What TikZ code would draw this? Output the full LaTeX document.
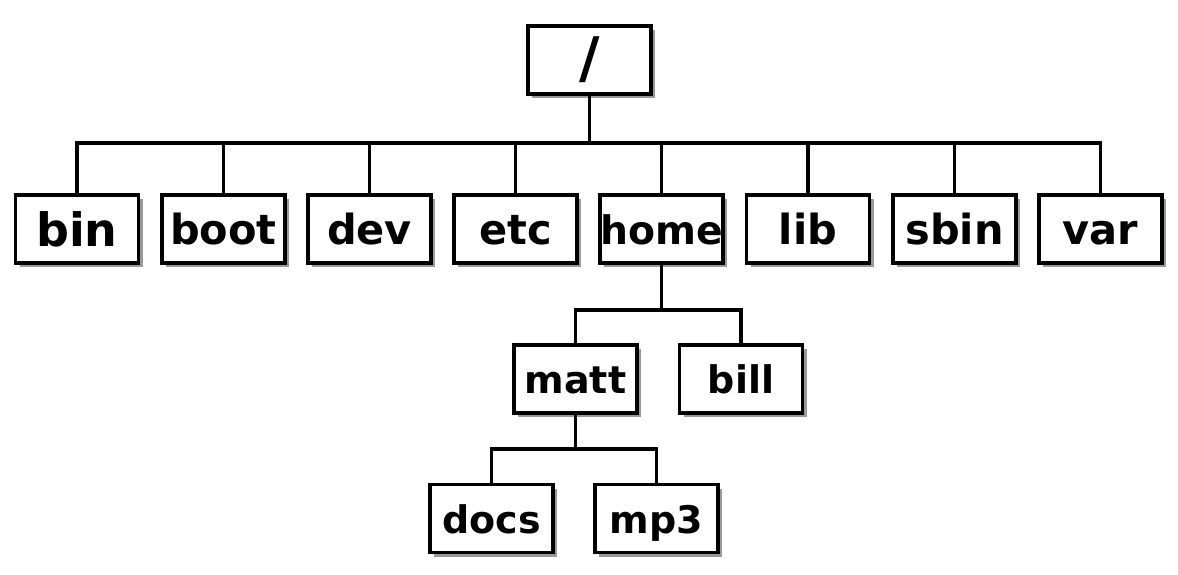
\documentclass[tikz,border=0pt]{standalone}
\usepackage{fontspec}
\setmainfont{DejaVu Sans}
\usetikzlibrary{shadows}
\begin{document}
\begin{tikzpicture}[x=1pt,y=-1pt,
  box/.style={draw=black, line width=3.5pt, fill=white, minimum width=123pt, minimum height=68pt,
    inner sep=0pt, text depth=0pt, row,
    general shadow={fill=black!40, shadow xshift=4pt, shadow yshift=-4pt}},
  row/.style={font=\bfseries\fontsize{41.5}{41.5}\selectfont, text height=31.5pt},
  big/.style={font=\bfseries\fontsize{46}{46}\selectfont, text height=35pt},
  mid/.style={font=\bfseries\fontsize{39.3}{39.3}\selectfont, text height=30pt},
  small/.style={font=\bfseries\fontsize{38}{38}\selectfont, text height=29pt},
  link/.style={line width=3.5pt, line join=miter}]
\useasboundingbox (0,0) rectangle (1178,575);

\node[box, text height=, text depth=, font=\bfseries\fontsize{56}{56}\selectfont] (root) at (589.5,60) {/};

\node[box, big] (bin) at (77,229) {bin};
\node[box] (boot) at (223.5,229) {boot};
\node[box] (dev) at (369.5,229) {dev};
\node[box] (etc) at (515.5,229) {etc};
\node[box, mid] (home) at (661.5,229) {home};
\node[box] (lib) at (808,229) {lib};
\node[box] (sbin) at (954.5,229) {sbin};
\node[box] (var) at (1100.5,229) {var};

\node[box, small] (matt) at (575.5,379) {matt};
\node[box, small] (bill) at (741,379) {bill};

\node[box, small] (docs) at (491.5,518.5) {docs};
\node[box, small] (mp3) at (656.5,518.5) {mp3};

\coordinate (b0) at (589.5,143);
\coordinate (b1) at (661.5,310);
\coordinate (b2) at (575.5,449);

\draw[link] (root.south) -- (b0);
\draw[link] (bin.north) |- (var.north |- b0) -- (var.north);
\foreach \n in {boot,dev,etc,home,lib,sbin}
  \draw[link] (\n.north) -- (\n.north |- b0);

\draw[link] (home.south) -- (b1);
\draw[link] (matt.north) |- (bill.north |- b1) -- (bill.north);

\draw[link] (matt.south) -- (b2);
\draw[link] (docs.north) |- (mp3.north |- b2) -- (mp3.north);
\end{tikzpicture}
\end{document}
